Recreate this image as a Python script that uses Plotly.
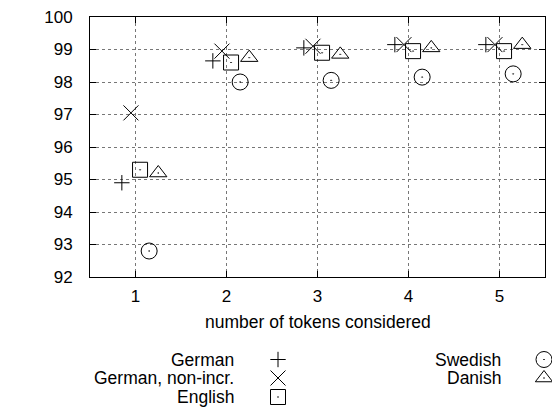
import plotly.graph_objects as go

tokens = [1, 2, 3, 4, 5]
german = [94.9, 98.65, 99.05, 99.15, 99.15]
german_nonincr = [97.05, 98.95, 99.1, 99.15, 99.15]
english = [95.3, 98.6, 98.9, 98.95, 98.95]
swedish = [92.8, 98.0, 98.05, 98.15, 98.25]
danish = [95.2, 98.75, 98.85, 99.05, 99.15]

y_ticks = [92, 93, 94, 95, 96, 97, 98, 99, 100]

series = [
    ("German", german, -0.15, "cross-thin", 11),
    ("German, non-incr.", german_nonincr, -0.05, "x-thin", 15),
    ("English", english, 0.05, "square-open-dot", 15),
    ("Swedish", swedish, 0.15, "circle-open-dot", 16),
    ("Danish", danish, 0.25, "triangle-up-open-dot", 15),
]

FONT = "Liberation Sans, Arial, sans-serif"
TXT = 17.5
fig = go.Figure()

for name, vals, off, sym, sz in series:
    fig.add_trace(go.Scatter(
        x=[t + off for t in tokens], y=vals, mode="markers", name=name,
        marker=dict(symbol=sym, size=sz, color="black",
                    line=dict(color="black", width=1)),
        cliponaxis=False, showlegend=False,
    ))

# legend (text right-aligned, symbol to the right), drawn on a hidden helper axis
# helper axis units are window pixels (x from left, y up from the bottom margin)
legend_pos = [(236, 278, 359.5), (236, 278, 378), (236, 278, 397),
              (503, 544, 359.5), (503, 544, 378)]
for (name, vals, off, sym, sz), (tx, mx, py) in zip(series, legend_pos):
    ly = 402 - py
    fig.add_trace(go.Scatter(
        x=[mx], y=[ly], xaxis="x2", yaxis="y2", mode="markers",
        marker=dict(symbol=sym, size=sz, color="black",
                    line=dict(color="black", width=1)),
        cliponaxis=False, showlegend=False, hoverinfo="skip",
    ))
    fig.add_annotation(x=tx, y=ly, xref="x2", yref="y2", text=name,
                       showarrow=False, xanchor="right", yanchor="middle",
                       font=dict(family=FONT, size=TXT, color="black"))

ydom0 = (402 - 277) / 385

# axis titles
fig.add_annotation(x=317.5, y=402 - 322, xref="x2", yref="y2",
                   text="number of tokens considered", showarrow=False,
                   xanchor="center", yanchor="middle",
                   font=dict(family=FONT, size=TXT, color="black"))
fig.add_annotation(x=18, y=402 - 143, xref="x2", yref="y2",
                   text="accuracy percentage", showarrow=False, textangle=-90,
                   xanchor="center", yanchor="middle",
                   font=dict(family=FONT, size=TXT, color="black"))

fig.update_layout(
    width=552, height=407,
    margin=dict(l=90, r=0, t=17, b=5, autoexpand=False),
    paper_bgcolor="white", plot_bgcolor="white",
    font=dict(family=FONT, size=17, color="black"),
    xaxis=dict(
        range=[0.5, 5.5], tickvals=tokens, ticks="inside", ticklen=6,
        tickcolor="black", showline=True, linecolor="black", linewidth=1,
        mirror="ticks", showgrid=True, gridcolor="#777", griddash="dot",
        gridwidth=1, zeroline=False, ticklabelstandoff=4, automargin=False,
        domain=[0, 455 / 462],
        anchor="y",
    ),
    yaxis=dict(
        range=[92, 100], tickvals=y_ticks, ticks="inside", ticklen=6,
        tickcolor="black", showline=True, linecolor="black", linewidth=1,
        mirror="ticks", showgrid=True, gridcolor="#777", griddash="dot",
        gridwidth=1, zeroline=False, ticklabelstandoff=13, automargin=False,
        domain=[ydom0, 1],
        anchor="x",
    ),
    xaxis2=dict(range=[90, 552], domain=[0, 1], visible=False,
                anchor="y2", fixedrange=True),
    yaxis2=dict(range=[0, 125], domain=[0, ydom0], visible=False, anchor="x2",
                fixedrange=True),
)

fig.write_html("out.html", config={"displayModeBar": False},
               post_script="document.body.style.margin='0';"
                           "document.body.style.overflow='hidden';")
